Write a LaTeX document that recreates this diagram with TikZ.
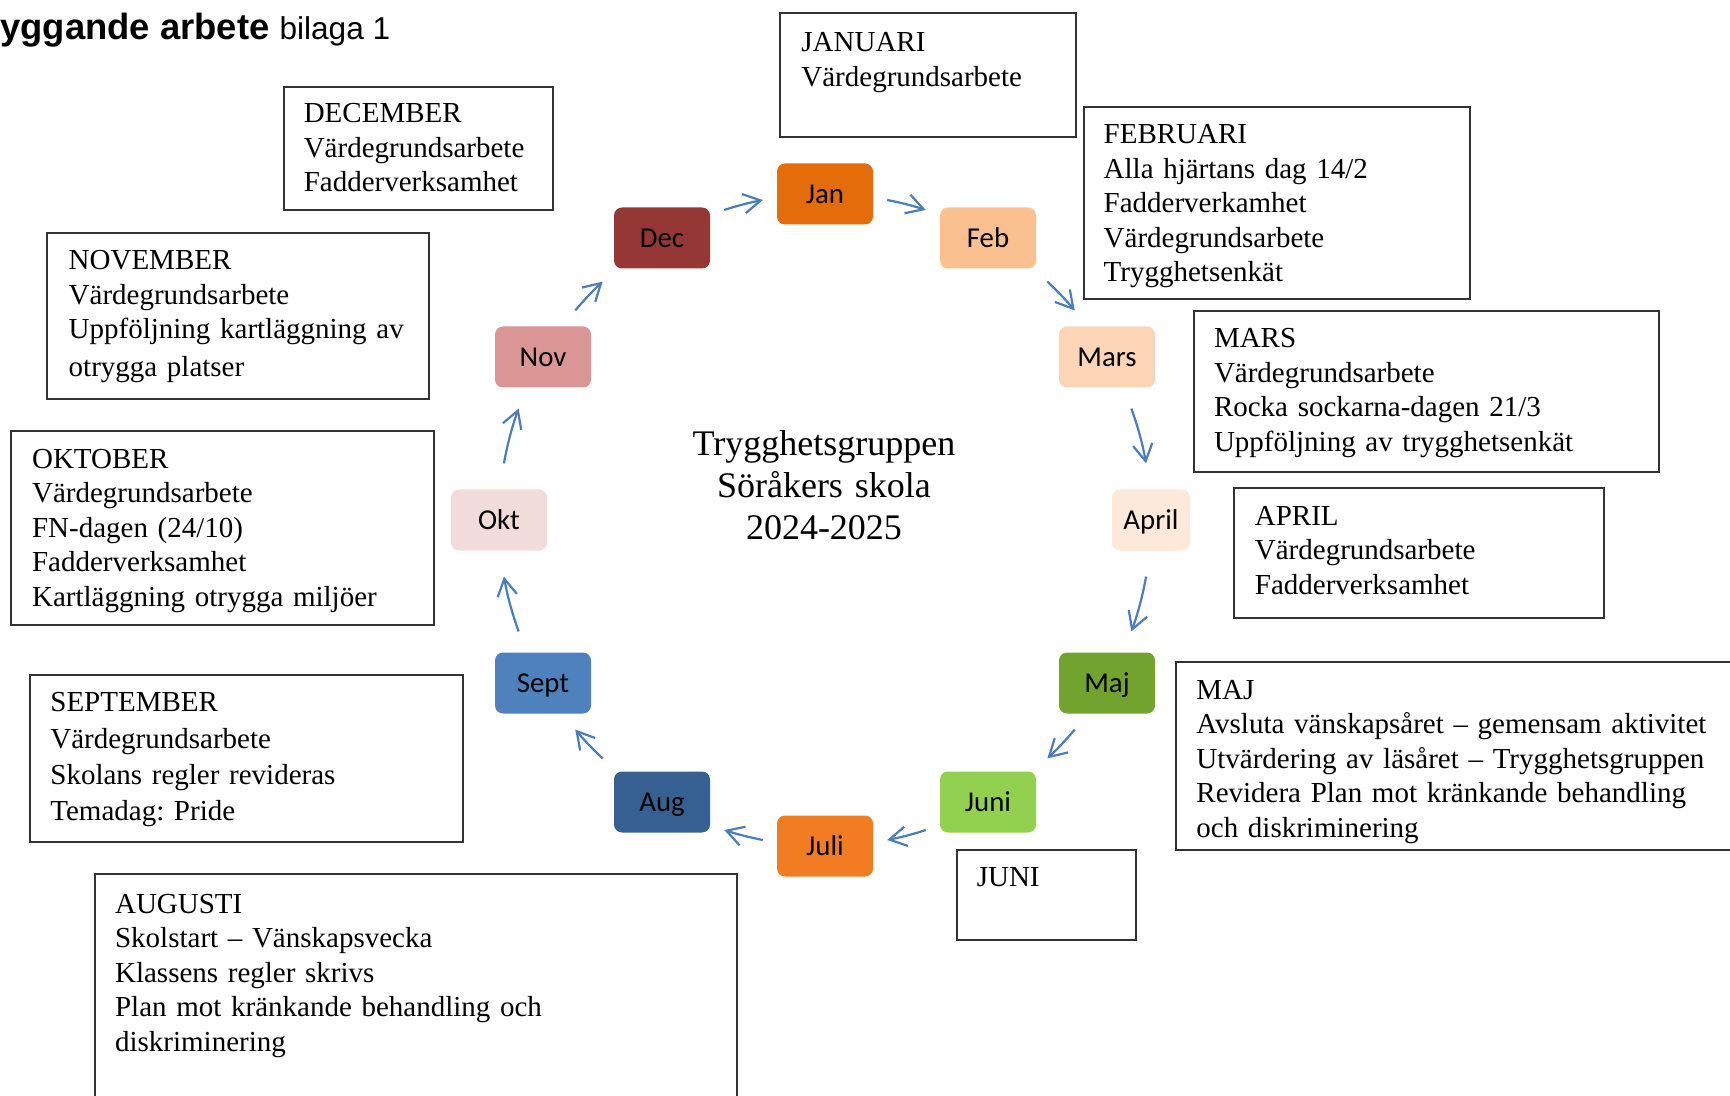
\documentclass[tikz,border=0pt]{standalone}
\usepackage{fontspec}
\setmainfont{Liberation Serif}
\newfontfamily\calibrifont{Carlito}
\newfontfamily\arialfont{Liberation Sans}
\usetikzlibrary{arrows.meta}
\frenchspacing

\definecolor{janfill}{HTML}{E46C0A}
\definecolor{febfill}{HTML}{FAC090}
\definecolor{marsfill}{HTML}{FBD5B5}
\definecolor{aprilfill}{HTML}{FDE9D9}
\definecolor{majfill}{HTML}{71A32E}
\definecolor{junifill}{HTML}{92D050}
\definecolor{julifill}{HTML}{F17C21}
\definecolor{augfill}{HTML}{366092}
\definecolor{septfill}{HTML}{4F81BD}
\definecolor{oktfill}{HTML}{F2DCDB}
\definecolor{novfill}{HTML}{D99694}
\definecolor{decfill}{HTML}{953735}
\definecolor{arrowblue}{HTML}{4A7EBB}

\tikzset{
  month/.style={fill=#1, rounded corners=4pt, minimum width=48pt, minimum height=30.5pt,
    inner sep=0pt, text height=9.3pt, text depth=0pt,
    font=\calibrifont\fontsize{14.4}{17}\selectfont},
  infobox/.style={draw=black!80, line width=1pt},
  infotext/.style={anchor=base west, inner sep=0pt, text width=300pt, align=left,
    font=\fontsize{14.5}{17.25}\selectfont},
  cyclearrow/.style={arrowblue, line width=1.1pt, -{Straight Barb[length=8.5pt,width=9.75pt]}}
}

\begin{document}
\begin{tikzpicture}[x=0.5pt,y=0.5pt]
\useasboundingbox (0,0) rectangle (1730,-1096);
\clip (0,0) rectangle (1730,-1096);
\node[anchor=base west, inner sep=0pt, font=\arialfont] (heading) at (0,-40)
  {\fontsize{18.2}{21}\selectfont\bfseries yggande arbete \mdseries\fontsize{15.8}{18}\selectfont bilaga 1};

\coordinate (ring) at (825,-520);
\node[anchor=base, text width=200pt, align=center, inner sep=0pt,
  font=\fontsize{18}{21}\selectfont] (group) at (824,-456)
  {Trygghetsgruppen\\Söråkers skola\\2024-2025};

\node[month=janfill] (jan) at (825,-194) {Jan};
\node[month=febfill] (feb) at (988,-238) {Feb};
\node[month=marsfill] (mars) at (1107,-357) {Mars};
\node[month=aprilfill, minimum width=39pt] (april) at (1151,-520) {April};
\node[month=majfill] (maj) at (1107,-683) {Maj};
\node[month=junifill] (juni) at (988,-802) {Juni};
\node[month=julifill] (juli) at (825,-846) {Juli};
\node[month=augfill] (aug) at (662,-802) {Aug};
\node[month=septfill] (sept) at (543,-683) {Sept};
\node[month=oktfill] (okt) at (499,-520) {Okt};
\node[month=novfill] (nov) at (543,-357) {Nov};
\node[month=decfill] (dec) at (662,-238) {Dec};

\draw[cyclearrow] ([shift={(108:326)}]ring) arc[start angle=108, end angle=101, radius=326];
\draw[cyclearrow] ([shift={(79:326)}]ring) arc[start angle=79, end angle=72, radius=326];
\draw[cyclearrow] ([shift={(47:326)}]ring) arc[start angle=47, end angle=40, radius=326];
\draw[cyclearrow] ([shift={(20:326)}]ring) arc[start angle=20, end angle=10, radius=326];
\draw[cyclearrow] ([shift={(-10:326)}]ring) arc[start angle=-10, end angle=-20, radius=326];
\draw[cyclearrow] ([shift={(-40:326)}]ring) arc[start angle=-40, end angle=-47, radius=326];
\draw[cyclearrow] ([shift={(-72:326)}]ring) arc[start angle=-72, end angle=-79, radius=326];
\draw[cyclearrow] ([shift={(-101:326)}]ring) arc[start angle=-101, end angle=-108, radius=326];
\draw[cyclearrow] ([shift={(-133:326)}]ring) arc[start angle=-133, end angle=-140, radius=326];
\draw[cyclearrow] ([shift={(-160:326)}]ring) arc[start angle=-160, end angle=-170, radius=326];
\draw[cyclearrow] ([shift={(170:326)}]ring) arc[start angle=170, end angle=160, radius=326];
\draw[cyclearrow] ([shift={(140:326)}]ring) arc[start angle=140, end angle=133, radius=326];

\draw[infobox] (780,-13) rectangle (1076,-137);
\node[infotext] (janinfo) at (801,-51.7) {JANUARI\\Värdegrundsarbete};

\draw[infobox] (1083.5,-107) rectangle (1469.6,-299);
\node[infotext] (febinfo) at (1103.3,-144) {FEBRUARI\\Alla hjärtans dag 14/2\\Fadderverkamhet\\Värdegrundsarbete\\Trygghetsenkät};

\draw[infobox] (1193.8,-311) rectangle (1659.4,-472);
\node[infotext] (marsinfo) at (1213.6,-348) {MARS\\Värdegrundsarbete\\Rocka sockarna-dagen 21/3\\Uppföljning av trygghetsenkät};

\draw[infobox] (1233.5,-488) rectangle (1604.2,-618);
\node[infotext] (aprilinfo) at (1254.5,-525) {APRIL\\Värdegrundsarbete\\Fadderverksamhet};

\draw[infobox] (1176,-662) rectangle (1745,-850);
\node[infotext] (majinfo) at (1196,-699.3) {MAJ\\Avsluta vänskapsåret – gemensam aktivitet\\Utvärdering av läsåret – Trygghetsgruppen\\Revidera Plan mot kränkande behandling\\och diskriminering};

\draw[infobox] (956.6,-849.5) rectangle (1136.4,-940);
\node[infotext] (juniinfo) at (976.4,-886.7) {JUNI};

\draw[infobox] (95,-873.5) rectangle (737,-1110);
\node[infotext] (auginfo) at (114.7,-913) {AUGUSTI\\Skolstart – Vänskapsvecka\\Klassens regler skrivs\\Plan mot kränkande behandling och\\diskriminering};

\draw[infobox] (29.5,-675) rectangle (463,-841.5);
\node[infotext, font=\fontsize{14.5}{18.2}\selectfont] (septinfo) at (50,-711.7) {SEPTEMBER\\Värdegrundsarbete\\Skolans regler revideras\\Temadag: Pride};

\draw[infobox] (11,-431) rectangle (434,-625);
\node[infotext] (oktinfo) at (31.7,-468.3) {OKTOBER\\Värdegrundsarbete\\FN-dagen (24/10)\\Fadderverksamhet\\Kartläggning otrygga miljöer};

\draw[infobox] (47,-233) rectangle (429.3,-399);
\node[infotext] (novinfo) at (68.3,-270) {NOVEMBER\\Värdegrundsarbete\\Uppföljning kartläggning av\\[1.5pt]otrygga platser};

\draw[infobox] (283.6,-87) rectangle (552.8,-210);
\node[infotext] (decinfo) at (303.4,-123) {DECEMBER\\Värdegrundsarbete\\Fadderverksamhet};
\end{tikzpicture}
\end{document}
